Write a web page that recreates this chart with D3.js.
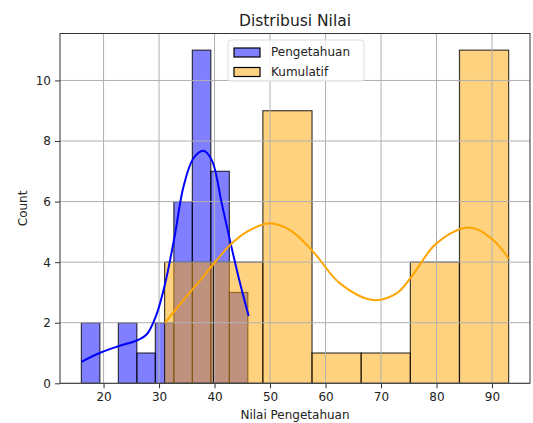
<!DOCTYPE html>
<html>
<head>
<meta charset="utf-8">
<script src="https://cdn.jsdelivr.net/npm/d3@7"></script>
<style>
	body { margin: 0; background: #fff; }
	text { font-family: "DejaVu Sans", sans-serif; fill: #222; }
</style>
</head>
<body>
<script>
	// histogram bins
	var blueEdges = [16, 19.33, 22.67, 26, 29.33, 32.67, 36, 39.33, 42.67, 46];
	var blueCounts = [2, 0, 2, 1, 2, 6, 11, 7, 3];
	var orangeEdges = [31, 39.86, 48.71, 57.57, 66.43, 75.29, 84.14, 93];
	var orangeCounts = [4, 4, 9, 1, 1, 4, 11];

	// kde curves (count scale)
	var blueKdeX = [16, 19.4, 22.8, 26.2, 27.8, 29.5, 31.1, 32.8, 34.4, 36.2, 38.0, 39.5, 41.3, 42.9, 44.6, 46.15];
	var blueKdeY = [0.71, 1.01, 1.23, 1.43, 1.62, 2.25, 3.30, 4.84, 6.49, 7.43, 7.68, 7.37, 5.94, 4.62, 3.30, 2.22];
	var orangeKdeX = [31.1, 34.0, 37.4, 40.0, 42.9, 45.8, 49.7, 53.6, 57.8, 62.6, 68.6, 72.8, 75.5, 80.0, 86.0, 90.2, 93.0];
	var orangeKdeY = [2.0, 2.66, 3.40, 3.98, 4.58, 5.0, 5.28, 5.06, 4.34, 3.30, 2.75, 2.97, 3.52, 4.62, 5.14, 4.73, 4.12];

	var xTicks = [20, 30, 40, 50, 60, 70, 80, 90];
	var yTicks = [0, 2, 4, 6, 8, 10];
	var seriesNames = ['Pengetahuan', 'Kumulatif'];

	var svgWidth = 533;
	var svgHeight = 423;
	// plot box (window.top is reserved, so use pTop etc.)
	var pLeft = 60, pRight = 530, pTop = 33.5, pBottom = 383.3;

	var x = d3.scaleLinear().domain([12.15, 96.85]).range([pLeft, pRight]);
	var y = d3.scaleLinear().domain([0, 11.55]).range([pBottom, pTop]);

	var svg = d3.select('body')
				.append('svg')
				.attr('width', svgWidth)
				.attr('height', svgHeight);

	svg.append('rect')
	   .attr('width', svgWidth)
	   .attr('height', svgHeight)
	   .attr('fill', '#fff');

	function binData(edges, counts) {
		return counts.map(function(c, i) {
			return {x0: edges[i], x1: edges[i + 1], n: c};
		});
	}

	function drawBars(data, color) {
		svg.append('g')
		   .selectAll('rect')
		   .data(data.filter(function(d) { return d.n > 0; }))
		   .enter()
		   .append('rect')
		   .attr('x', function(d) { return x(d.x0); })
		   .attr('y', function(d) { return y(d.n); })
		   .attr('width', function(d) { return x(d.x1) - x(d.x0); })
		   .attr('height', function(d) { return y(0) - y(d.n); })
		   .attr('fill', color)
		   .attr('fill-opacity', 0.5)
		   .attr('stroke', '#000')
		   .attr('stroke-opacity', 0.75)
		   .attr('stroke-width', 1.2);
	}

	drawBars(binData(blueEdges, blueCounts), 'rgb(0,0,255)');
	drawBars(binData(orangeEdges, orangeCounts), 'rgb(255,165,0)');

	// grid sits over the bars, under the curves
	var grid = svg.append('g')
				  .attr('stroke', '#b0b0b0')
				  .attr('stroke-width', 1);
	grid.selectAll('.gx')
		.data(xTicks)
		.enter()
		.append('line')
		.attr('x1', function(d) { return x(d); })
		.attr('x2', function(d) { return x(d); })
		.attr('y1', pTop)
		.attr('y2', pBottom);
	grid.selectAll('.gy')
		.data(yTicks)
		.enter()
		.append('line')
		.attr('y1', function(d) { return y(d); })
		.attr('y2', function(d) { return y(d); })
		.attr('x1', pLeft)
		.attr('x2', pRight);

	var line = d3.line()
				 .x(function(d) { return x(d[0]); })
				 .y(function(d) { return y(d[1]); })
				 .curve(d3.curveCatmullRom);

	svg.append('path')
	   .datum(d3.zip(blueKdeX, blueKdeY))
	   .attr('d', line)
	   .attr('fill', 'none')
	   .attr('stroke', 'blue')
	   .attr('stroke-width', 2);

	svg.append('path')
	   .datum(d3.zip(orangeKdeX, orangeKdeY))
	   .attr('d', line)
	   .attr('fill', 'none')
	   .attr('stroke', 'orange')
	   .attr('stroke-width', 2);

	// axes
	var xAxis = svg.append('g')
				   .attr('transform', 'translate(0,' + pBottom + ')')
				   .call(d3.axisBottom(x).tickValues(xTicks).tickSize(5).tickPadding(4));
	var yAxis = svg.append('g')
				   .attr('transform', 'translate(' + pLeft + ',0)')
				   .call(d3.axisLeft(y).tickValues(yTicks).tickSize(5).tickPadding(4));
	[xAxis, yAxis].forEach(function(a) {
		a.select('.domain').remove();
		a.selectAll('text')
		 .style('font-size', '12px')
		 .style('font-family', '"DejaVu Sans", sans-serif')
		 .attr('fill', '#222');
		a.selectAll('line').attr('stroke', '#333');
	});

	svg.append('rect')
	   .attr('x', pLeft)
	   .attr('y', pTop)
	   .attr('width', pRight - pLeft)
	   .attr('height', pBottom - pTop)
	   .attr('fill', 'none')
	   .attr('stroke', '#333')
	   .attr('stroke-width', 1);

	svg.append('text')
	   .attr('x', (pLeft + pRight) / 2)
	   .attr('y', 26)
	   .attr('text-anchor', 'middle')
	   .style('font-size', '15.5px')
	   .text('Distribusi Nilai');

	svg.append('text')
	   .attr('x', (pLeft + pRight) / 2)
	   .attr('y', 419)
	   .attr('text-anchor', 'middle')
	   .style('font-size', '12px')
	   .text('Nilai Pengetahuan');

	svg.append('text')
	   .attr('transform', 'translate(27,' + (pTop + pBottom) / 2 + ') rotate(-90)')
	   .attr('text-anchor', 'middle')
	   .style('font-size', '12px')
	   .text('Count');

	// legend
	var legend = svg.append('g').attr('transform', 'translate(228,40)');
	legend.append('rect')
		  .attr('width', 136)
		  .attr('height', 41)
		  .attr('rx', 3)
		  .attr('fill', '#fff')
		  .attr('fill-opacity', 0.8)
		  .attr('stroke', '#ddd');
	var colors = ['rgb(0,0,255)', 'rgb(255,165,0)'];
	seriesNames.forEach(function(name, i) {
		legend.append('rect')
			  .attr('x', 6)
			  .attr('y', 8 + i * 19.5)
			  .attr('width', 26)
			  .attr('height', 9)
			  .attr('fill', colors[i])
			  .attr('fill-opacity', 0.5)
			  .attr('stroke', '#000')
			  .attr('stroke-width', 1.2);
		legend.append('text')
			  .attr('x', 43)
			  .attr('y', 16 + i * 19.5)
			  .style('font-size', '12px')
			  .text(name);
	});
</script>
</body>
</html>
